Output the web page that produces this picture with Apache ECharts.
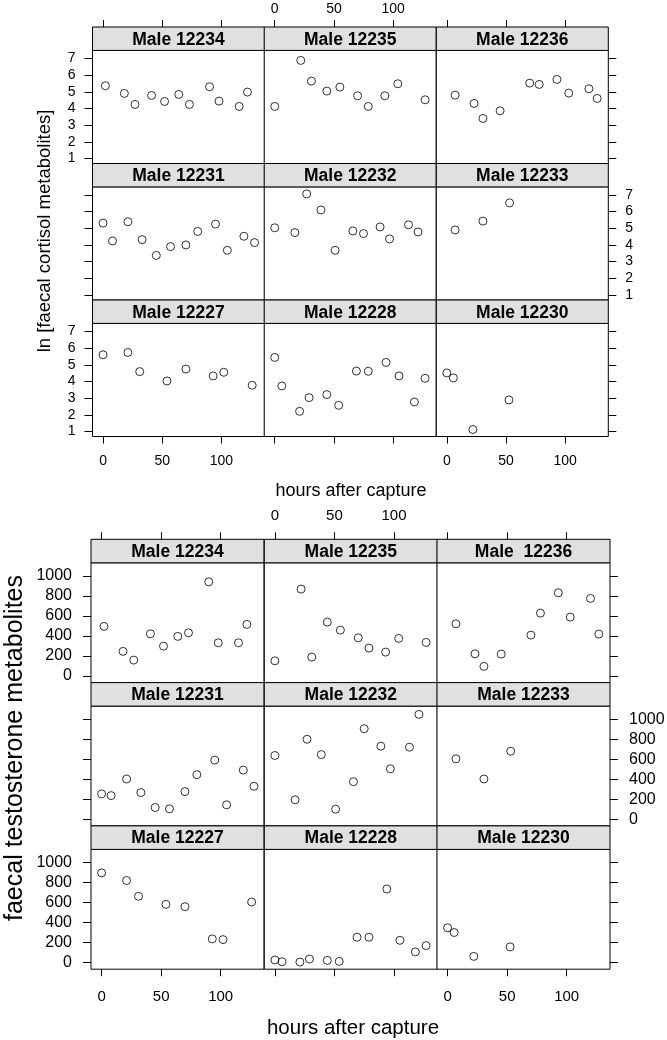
<!DOCTYPE html>
<html><head><meta charset="utf-8">
<script src="https://cdn.jsdelivr.net/npm/echarts@6/dist/echarts.min.js"></script>
<style>html,body{margin:0;padding:0;background:#fff}#c{width:667px;height:1040px}</style>
</head><body><div id="c"></div>
<script>
// ---------- data ----------
const stripLabels1 = ['Male 12234','Male 12235','Male 12236','Male 12231','Male 12232','Male 12233','Male 12227','Male 12228','Male 12230'];
const stripLabels2 = ['Male 12234','Male 12235','Male  12236','Male 12231','Male 12232','Male 12233','Male 12227','Male 12228','Male 12230'];
const xTicks = [0, 50, 100];
const cortTicks = [1, 2, 3, 4, 5, 6, 7];
const testTicks = [0, 200, 400, 600, 800, 1000];

const h12234 = [2, 18, 27, 41, 52, 64, 73, 90, 98, 115, 122];
const cort12234 = [5.36, 4.9, 4.24, 4.78, 4.42, 4.84, 4.24, 5.3, 4.44, 4.12, 4.98];
const test12234 = [494, 244, 157, 420, 297, 394, 430, 940, 330, 330, 514];

const h12235 = [0, 22, 31, 44, 55, 70, 79, 93, 104, 127];
const cort12235 = [4.12, 6.88, 5.64, 5.04, 5.28, 4.76, 4.12, 4.76, 5.48, 4.52];
const test12235 = [150, 867, 187, 537, 457, 380, 277, 237, 374, 334];

const h12236 = [7, 23, 30.5, 45, 70, 78, 93, 103, 120, 127];
const cort12236 = [4.8, 4.3, 3.4, 3.86, 5.52, 5.44, 5.74, 4.92, 5.18, 4.6];
const test12236 = [520, 220, 94, 217, 407, 627, 830, 587, 774, 417];

const h12231 = [0, 8, 21, 33, 45, 57, 70, 80, 95, 105, 119, 128];
const cort12231 = [5.31, 4.24, 5.39, 4.32, 3.37, 3.9, 4.0, 4.81, 5.25, 3.68, 4.52, 4.14];
const test12231 = [252, 235, 401, 265, 116, 103, 275, 444, 590, 143, 490, 328];

const h12232 = [0, 17, 27, 39, 51, 66, 75, 89, 97, 113, 121];
const cort12232 = [5.03, 4.74, 7.06, 6.1, 3.68, 4.84, 4.68, 5.08, 4.36, 5.21, 4.78];
const test12232 = [636, 193, 798, 645, 99, 374, 904, 729, 503, 719, 1047];

const h12233 = [7, 30.5, 53];
const cort12233 = [4.9, 5.43, 6.52];
const test12233 = [603, 401, 679];

const h12227 = [0, 21, 31, 54, 70, 93, 102, 126];
const cort12227 = [5.6, 5.74, 4.59, 4.03, 4.74, 4.33, 4.55, 3.77];
const test12227 = [895, 819, 661, 580, 557, 235, 228, 604];

const h12228 = [0, 6, 21, 29, 44, 54, 69, 79, 94, 105, 118, 127];
const cort12228 = [5.44, 3.73, 2.21, 3.03, 3.21, 2.57, 4.62, 4.61, 5.14, 4.33, 2.77, 4.19];
const test12228 = [24, 7, 3, 34, 20, 10, 252, 252, 734, 221, 105, 168];

const h12230 = [0, 5.5, 22, 52.5];
const cort12230 = [4.51, 4.21, 1.12, 2.89];
const test12230 = [346, 299, 60, 155];

const hoursList = [h12234, h12235, h12236, h12231, h12232, h12233, h12227, h12228, h12230];
const cortList = [cort12234, cort12235, cort12236, cort12231, cort12232, cort12233, cort12227, cort12228, cort12230];
const testList = [test12234, test12235, test12236, test12231, test12232, test12233, test12227, test12228, test12230];

// ---------- layout ----------
const FONT = '"Liberation Sans", Arial, Helvetica, sans-serif';
const X_MIN = -8.9, X_MAX = 136.4;

const charts = [
  { cols: [92.5, 264.2, 436.3], colW: 172, top: 27, pitch: 136.5, stripH: 23.4,
    yMin: 0.70, yMax: 7.48, yTicks: cortTicks, values: cortList, strips: stripLabels1,
    tickFont: 14, yFont: 14, xLabMarginTop: 11, xLabMarginBot: 18, yLabMargin: 17 },
  { cols: [91, 264.3, 437], colW: 173, top: 539.3, pitch: 143.3, stripH: 23.5,
    yMin: -68, yMax: 1130, yTicks: testTicks, values: testList, strips: stripLabels2,
    tickFont: 15, yFont: 16, xLabMarginTop: 16, xLabMarginBot: 20, yLabMargin: 19 }
];

const grid = [], xAxis = [], yAxis = [], series = [], graphic = [];

charts.forEach((ch, ci) => {
  for (let r = 0; r < 3; r++) {
    for (let c = 0; c < 3; c++) {
      const k = r * 3 + c;
      const gi = grid.length;
      const stripTop = ch.top + r * ch.pitch;
      const plotTop = stripTop + ch.stripH;
      const plotH = ch.pitch - ch.stripH;
      const left = ch.cols[c];
      grid.push({ left: left, top: plotTop, width: ch.colW, height: plotH,
        show: true, borderColor: '#000', borderWidth: 1, backgroundColor: '#fff',
        containLabel: false, outerBoundsMode: 'none' });

      // strip
      graphic.push({ type: 'rect', silent: true, z: 10,
        shape: { x: left, y: stripTop, width: ch.colW, height: ch.stripH },
        style: { fill: '#e0e0e0', stroke: '#000', lineWidth: 1 } });
      graphic.push({ type: 'text', silent: true, z: 11,
        x: left + ch.colW / 2, y: stripTop + ch.stripH / 2 + 1,
        style: { text: ch.strips[k], font: 'bold 17.5px ' + FONT, fill: '#000',
          align: 'center', verticalAlign: 'middle', textAlign: 'center', textVerticalAlign: 'middle' } });

      const fmt = v => String(v);
      // bottom x axis
      const xb = xAxis.length;
      xAxis.push({ type: 'value', gridIndex: gi, position: 'bottom', min: X_MIN, max: X_MAX,
        axisLine: { show: false, onZero: false }, splitLine: { show: false },
        axisTick: { show: r === 2, customValues: xTicks, length: 7, lineStyle: { color: '#000', width: 1 } },
        axisLabel: { show: r === 2 && c !== 1, customValues: xTicks, margin: ch.xLabMarginBot, formatter: fmt,
          fontSize: ch.tickFont, color: '#000', fontFamily: FONT } });
      if (r === 0) {
        xAxis.push({ type: 'value', gridIndex: gi, position: 'top', offset: ch.stripH, min: X_MIN, max: X_MAX,
          axisLine: { show: false, onZero: false }, splitLine: { show: false },
          axisTick: { show: true, customValues: xTicks, length: 7, lineStyle: { color: '#000', width: 1 } },
          axisLabel: { show: c === 1, customValues: xTicks, margin: ch.xLabMarginTop, formatter: fmt,
            fontSize: ch.tickFont, color: '#000', fontFamily: FONT } });
      }
      // y axis
      const yi = yAxis.length;
      const showLab = (c === 0 && r !== 1) || (c === 2 && r === 1);
      yAxis.push({ type: 'value', gridIndex: gi, position: c === 2 ? 'right' : 'left',
        min: ch.yMin, max: ch.yMax,
        axisLine: { show: false, onZero: false }, splitLine: { show: false },
        axisTick: { show: c !== 1, customValues: ch.yTicks, length: 8, lineStyle: { color: '#000', width: 1 } },
        axisLabel: { show: showLab, customValues: ch.yTicks, margin: ch.yLabMargin, formatter: fmt,
          fontSize: ch.yFont, color: '#000', fontFamily: FONT } });

      const hrs = hoursList[k], vals = ch.values[k];
      series.push({ type: 'scatter', xAxisIndex: xb, yAxisIndex: yi,
        data: hrs.map((h, j) => [h, vals[j]]),
        symbol: 'circle', symbolSize: 8, silent: true,
        itemStyle: { color: 'rgba(0,0,0,0)', borderColor: '#000', borderWidth: 1 } });
    }
  }
});

// axis titles
graphic.push({ type: 'text', silent: true, x: 351, y: 491,
  style: { text: 'hours after capture', font: '18px ' + FONT, fill: '#000',
    align: 'center', verticalAlign: 'middle', textAlign: 'center', textVerticalAlign: 'middle' } });
graphic.push({ type: 'text', silent: true, x: 353, y: 1028,
  style: { text: 'hours after capture', font: '20.5px ' + FONT, fill: '#000',
    align: 'center', verticalAlign: 'middle', textAlign: 'center', textVerticalAlign: 'middle' } });
graphic.push({ type: 'text', silent: true, x: 45, y: 231, rotation: Math.PI / 2,
  style: { text: 'ln [faecal cortisol metabolites]', font: '18.5px ' + FONT, fill: '#000',
    align: 'center', verticalAlign: 'middle', textAlign: 'center', textVerticalAlign: 'middle' } });
graphic.push({ type: 'text', silent: true, x: 15, y: 748, rotation: Math.PI / 2,
  style: { text: 'faecal testosterone metabolites', font: '25px ' + FONT, fill: '#000',
    align: 'center', verticalAlign: 'middle', textAlign: 'center', textVerticalAlign: 'middle' } });

const chart = echarts.init(document.getElementById('c'), null, { renderer: 'canvas' });
chart.setOption({ animation: false, backgroundColor: '#fff', grid, xAxis, yAxis, series, graphic });
</script></body></html>
